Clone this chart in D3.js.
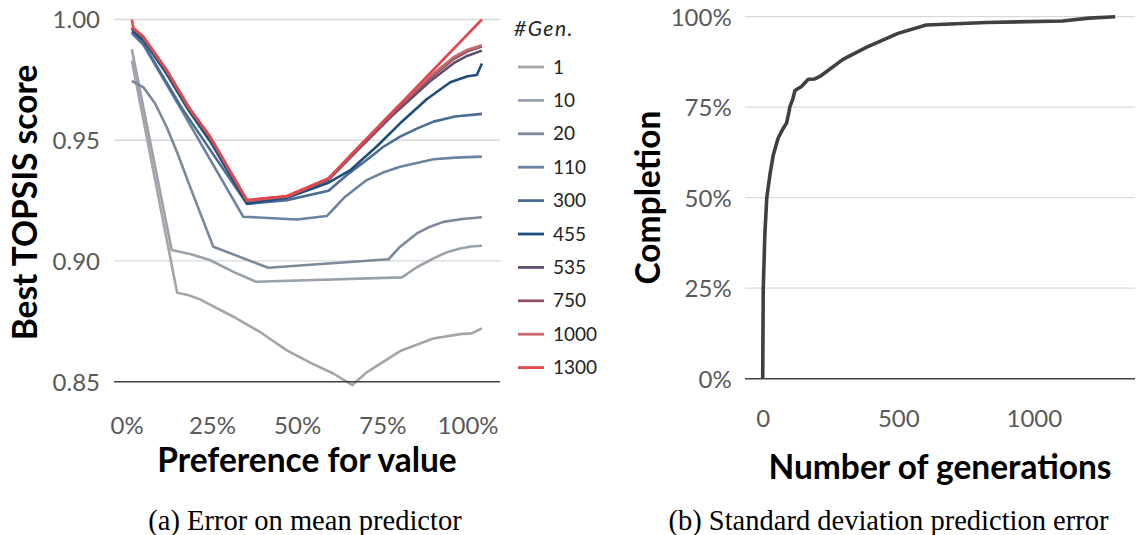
<!DOCTYPE html>
<html>
<head>
<meta charset="utf-8">
<script src="https://cdn.jsdelivr.net/npm/d3@7"></script>
<style>
  html, body { margin: 0; padding: 0; background: #fff; }
  svg { display: block; }
  text { font-family: Lato, "Open Sans", sans-serif; }
</style>
</head>
<body>
<svg id="chart" width="1139" height="535"></svg>
<script>
// ---------- DATA (left panel: best TOPSIS score vs preference for value) ----------
const genLabels = ["1", "10", "20", "110", "300", "455", "535", "750", "1000", "1300"];
const genColors = ["#a5a5a5", "#98a1ac", "#7b899b", "#6b83a2", "#4b6c93", "#1f4e7d", "#5f4e71", "#8e5164", "#c9686f", "#e2474c"];

const gen1 = [[0.015,0.9830],[0.148,0.8868],[0.180,0.8859],[0.215,0.8841],[0.313,0.8769],[0.391,0.8706],[0.469,0.8631],[0.538,0.8579],[0.606,0.8534],[0.662,0.8486],[0.705,0.8540],[0.802,0.8627],[0.899,0.8679],[0.978,0.8697],[1.012,0.8700],[1.042,0.8721]];
const gen10 = [[0.015,0.9877],[0.132,0.9045],[0.186,0.9029],[0.244,0.9004],[0.313,0.8955],[0.379,0.8914],[0.807,0.8932],[0.851,0.8974],[0.900,0.9011],[0.939,0.9036],[0.978,0.9052],[1.010,0.9060],[1.042,0.9063]];
const gen20 = [[0.015,0.9746],[0.049,0.9719],[0.083,0.9653],[0.117,0.9556],[0.151,0.9439],[0.186,0.9307],[0.254,0.9059],[0.415,0.8972],[0.768,0.9007],[0.802,0.9059],[0.851,0.9114],[0.890,0.9142],[0.929,0.9162],[0.984,0.9174],[1.042,0.9181]];
const gen110 = [[0.015,0.9943],[0.049,0.9895],[0.161,0.9625],[0.342,0.9183],[0.499,0.9172],[0.587,0.9186],[0.640,0.9265],[0.704,0.9335],[0.752,0.9366],[0.802,0.9390],[0.900,0.9421],[0.963,0.9428],[1.042,0.9432]];
const gen300 = [[0.015,0.9950],[0.049,0.9900],[0.161,0.9635],[0.245,0.9460],[0.353,0.9236],[0.470,0.9252],[0.592,0.9291],[0.646,0.9356],[0.704,0.9418],[0.752,0.9472],[0.802,0.9515],[0.851,0.9548],[0.900,0.9577],[0.963,0.9598],[1.042,0.9609]];
const gen455 = [[0.015,0.9965],[0.020,0.9950],[0.049,0.9915],[0.117,0.9775],[0.181,0.9625],[0.245,0.9495],[0.353,0.9238],[0.470,0.9262],[0.592,0.9324],[0.655,0.9375],[0.734,0.9475],[0.802,0.9570],[0.880,0.9670],[0.949,0.9740],[1.000,0.9765],[1.027,0.9770],[1.042,0.9818]];
const gen535 = [[0.015,0.9965],[0.020,0.9961],[0.049,0.9926],[0.117,0.9788],[0.181,0.9636],[0.245,0.9511],[0.353,0.9249],[0.470,0.9266],[0.592,0.9336],[0.682,0.9465],[0.785,0.9610],[0.888,0.9742],[0.960,0.9820],[1.000,0.9850],[1.042,0.9871]];
const gen750 = [[0.015,0.9966],[0.020,0.9962],[0.049,0.9927],[0.117,0.9789],[0.181,0.9637],[0.245,0.9512],[0.353,0.9250],[0.470,0.9267],[0.592,0.9340],[0.682,0.9470],[0.785,0.9618],[0.888,0.9755],[0.960,0.9837],[1.000,0.9868],[1.042,0.9888]];
const gen1000 = [[0.015,0.9967],[0.020,0.9963],[0.049,0.9928],[0.117,0.9790],[0.181,0.9638],[0.245,0.9513],[0.353,0.9251],[0.470,0.9268],[0.592,0.9342],[0.682,0.9475],[0.785,0.9625],[0.888,0.9763],[0.960,0.9845],[1.000,0.9875],[1.042,0.9893]];
const gen1300 = [[0.015,1.0000],[0.020,0.9964],[0.049,0.9929],[0.117,0.9791],[0.181,0.9639],[0.245,0.9514],[0.353,0.9252],[0.470,0.9269],[0.592,0.9342],[1.042,1.0000]];
const leftSeries = [gen1, gen10, gen20, gen110, gen300, gen455, gen535, gen750, gen1000, gen1300];

const leftXTicks = [0, 0.25, 0.5, 0.75, 1];
const leftYTicks = [0.85, 0.90, 0.95, 1.00];

// ---------- DATA (right panel: completion vs number of generations) ----------
const completion = [[0,0],[2,0.25],[8,0.40],[15,0.50],[27,0.565],[39,0.618],[57,0.665],[76,0.692],[88,0.706],[97,0.738],[100,0.751],[110,0.770],[119,0.796],[143,0.807],[168,0.827],[192,0.828],[211,0.835],[296,0.882],[382,0.915],[499,0.954],[603,0.977],[824,0.984],[1105,0.988],[1203,0.996],[1300,1.0]];
const rightXTicks = [0, 500, 1000];
const rightYTicks = [0, 0.25, 0.5, 0.75, 1];

const captions = ["(a) Error on mean predictor", "(b) Standard deviation prediction error"];

// ---------- DRAW ----------
const svg = d3.select("#chart");
const tickColor = "#595959";
const gridColor = "#d9d9d9";
const axisColor = "#404040";
const tickFont = "24px";
const titleFont = "33.5px";

// Left panel scales
const xL = d3.scaleLinear().domain([-0.0372, 1.095]).range([114, 500]);
const yL = d3.scaleLinear().domain([0.85, 1.0]).range([381.7, 19.5]);

const left = svg.append("g");
left.append("g").selectAll("line").data(leftYTicks.filter(d => d > 0.85)).join("line")
  .attr("x1", xL.range()[0]).attr("x2", xL.range()[1])
  .attr("y1", d => yL(d)).attr("y2", d => yL(d))
  .attr("stroke", gridColor).attr("stroke-width", 1.3);
const yAxisL = d3.axisLeft(yL).tickValues(leftYTicks).tickFormat(d3.format(".2f")).tickSize(0).tickPadding(0);
const gyL = left.append("g").attr("transform", "translate(100,0)").call(yAxisL);
gyL.select(".domain").remove();
gyL.selectAll("text").attr("fill", tickColor).style("font-size", tickFont).style("font-family", "Lato").attr("dy", "0.35em");
const xAxisL = d3.axisBottom(xL).tickValues(leftXTicks).tickFormat(d3.format(".0%")).tickSize(0).tickPadding(0);
const gxL = left.append("g").attr("transform", "translate(0,426)").call(xAxisL);
gxL.select(".domain").remove();
gxL.selectAll("text").attr("fill", tickColor).style("font-size", tickFont).style("font-family", "Lato").attr("dy", "0.35em");

const lineL = d3.line().x(d => xL(d[0])).y(d => yL(d[1]));
left.append("g").selectAll("path").data(leftSeries).join("path")
  .attr("d", d => lineL(d))
  .attr("fill", "none")
  .attr("stroke", (d, i) => genColors[i])
  .attr("stroke-width", 2.6)
  .attr("stroke-linejoin", "round");

left.append("line")
  .attr("x1", xL.range()[0]).attr("x2", xL.range()[1])
  .attr("y1", yL(0.85)).attr("y2", yL(0.85))
  .attr("stroke", axisColor).attr("stroke-width", 1.6);

left.append("text").text("Preference for value")
  .attr("x", 307).attr("y", 472).attr("text-anchor", "middle")
  .style("font-size", titleFont).style("font-weight", "bold").attr("fill", "#000");
left.append("text").text("Best TOPSIS score")
  .attr("transform", "translate(37,202.5) rotate(-90)").attr("text-anchor", "middle")
  .style("font-size", titleFont).style("font-weight", "bold").attr("fill", "#000");

// legend
const legend = left.append("g");
legend.append("text").text("#Gen.")
  .attr("x", 514).attr("y", 29).attr("dy", "0.35em")
  .style("font-size", "21px").style("font-style", "italic").style("letter-spacing", "1.5px").attr("fill", "#222");
const lg = legend.selectAll("g.item").data(genLabels).join("g").attr("class", "item")
  .attr("transform", (d, i) => `translate(0,${67 + i * 33.4})`);
lg.append("line").attr("x1", 518).attr("x2", 544).attr("y1", 0).attr("y2", 0)
  .attr("stroke", (d, i) => genColors[i]).attr("stroke-width", 2.8);
lg.append("text").text(d => d).attr("x", 553).attr("y", 0).attr("dy", "0.35em")
  .style("font-size", "19px").attr("fill", "#222");

// Right panel
const xR = d3.scaleLinear().domain([-65.3, 1373]).range([745, 1135]);
const yR = d3.scaleLinear().domain([0, 1]).range([378.7, 16.7]);
const right = svg.append("g");
right.append("g").selectAll("line").data(rightYTicks.filter(d => d > 0)).join("line")
  .attr("x1", xR.range()[0]).attr("x2", xR.range()[1])
  .attr("y1", d => yR(d)).attr("y2", d => yR(d))
  .attr("stroke", gridColor).attr("stroke-width", 1.3);
const yAxisR = d3.axisLeft(yR).tickValues(rightYTicks).tickFormat(d3.format(".0%")).tickSize(0).tickPadding(0);
const gyR = right.append("g").attr("transform", "translate(731.7,0)").call(yAxisR);
gyR.select(".domain").remove();
gyR.selectAll("text").attr("fill", tickColor).style("font-size", tickFont).style("font-family", "Lato").attr("dy", "0.35em");
const xAxisR = d3.axisBottom(xR).tickValues(rightXTicks).tickFormat(d3.format("d")).tickSize(0).tickPadding(0);
const gxR = right.append("g").attr("transform", "translate(0,419)").call(xAxisR);
gxR.select(".domain").remove();
gxR.selectAll("text").attr("fill", tickColor).style("font-size", tickFont).style("font-family", "Lato").attr("dy", "0.35em");

right.append("line")
  .attr("x1", xR.range()[0]).attr("x2", xR.range()[1])
  .attr("y1", yR(0)).attr("y2", yR(0))
  .attr("stroke", axisColor).attr("stroke-width", 1.6);

const lineR = d3.line().x(d => xR(d[0])).y(d => yR(d[1]));
right.append("path").datum(completion)
  .attr("d", lineR).attr("fill", "none")
  .attr("stroke", "#404040").attr("stroke-width", 3.6).attr("stroke-linejoin", "round");

right.append("text").text("Number of generations")
  .attr("x", 940).attr("y", 479).attr("text-anchor", "middle")
  .style("font-size", titleFont).style("font-weight", "bold").attr("fill", "#000");
right.append("text").text("Completion")
  .attr("transform", "translate(660,197.5) rotate(-90)").attr("text-anchor", "middle")
  .style("font-size", titleFont).style("font-weight", "bold").attr("fill", "#000");

// captions
svg.append("g").selectAll("text").data(captions).join("text")
  .text(d => d)
  .attr("x", (d, i) => i === 0 ? 305 : 888.5)
  .attr("y", 530)
  .attr("text-anchor", "middle")
  .style("font-family", "'Liberation Serif', 'Times New Roman', serif")
  .style("font-size", "28.5px").attr("fill", "#000");
</script>
</body>
</html>
